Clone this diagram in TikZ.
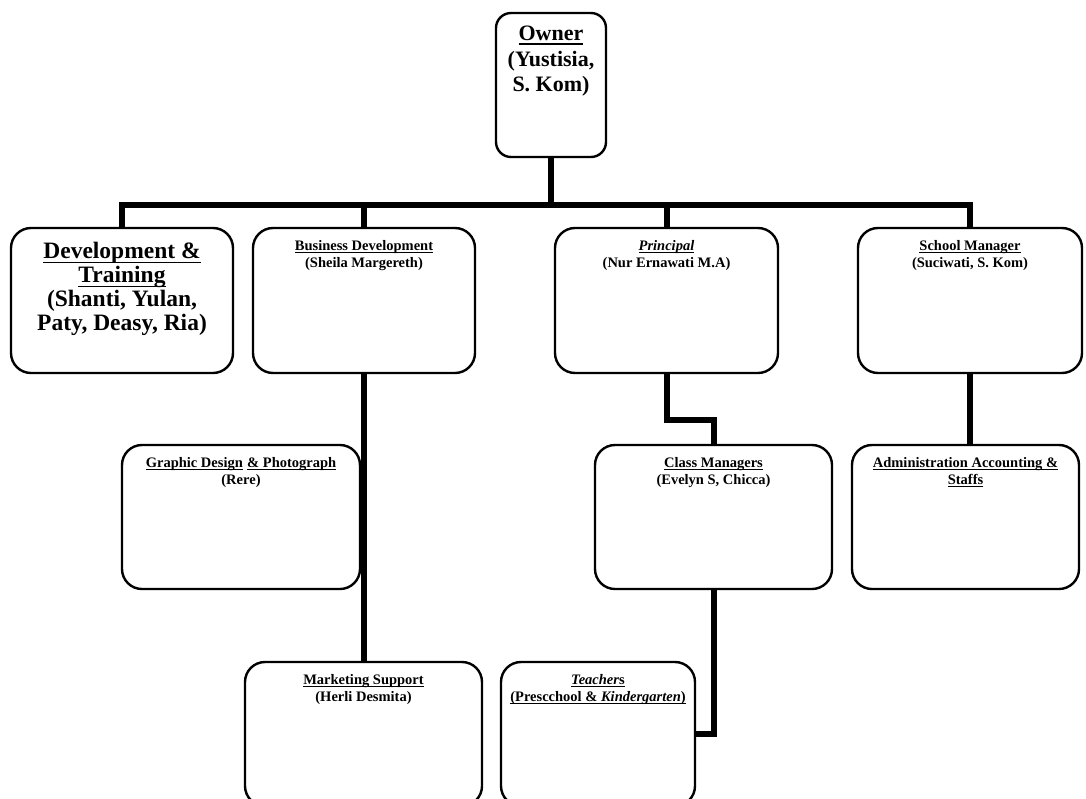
\documentclass[tikz,border=0pt]{standalone}
\usepackage{fontspec}
\setmainfont{Liberation Serif}
\newlength\myulth
\setlength\myulth{1pt}
\newcommand{\myul}[1]{\setbox0=\hbox{#1}\rlap{\rule[-0.2em]{\wd0}{\myulth}}\box0}
\begin{document}
\begin{tikzpicture}[x=1pt,y=-1pt,
  box/.style={draw, line width=2.4pt, rounded corners=20pt, inner sep=0pt},
  sm/.style={font=\fontsize{14.5}{17.5}\selectfont\bfseries, align=center, inner sep=0pt},
  lg/.style={font=\fontsize{23.5}{24}\selectfont\bfseries, align=center, inner sep=0pt},
  ow/.style={font=\fontsize{22}{25.5}\selectfont\bfseries, align=center, inner sep=0pt},
  conn/.style={line width=6pt, line join=miter}]
\clip (0,0) rectangle (1086,798);
\fill[white] (0,0) rectangle (1086,798);
% boxes
\node[box, rounded corners=15pt, minimum width=110pt, minimum height=144pt] (own) at (551,85) {};
\node[box, minimum width=222pt, minimum height=145pt] (dt) at (122,300.5) {};
\node[box, minimum width=222pt, minimum height=145pt] (bd) at (364,300.5) {};
\node[box, minimum width=223pt, minimum height=145pt] (pr) at (666.5,300.5) {};
\node[box, minimum width=224pt, minimum height=145pt] (sm) at (970,300.5) {};
\node[box, minimum width=238pt, minimum height=144pt] (gd) at (241,517) {};
\node[box, minimum width=237pt, minimum height=144pt] (cm) at (713.5,517) {};
\node[box, minimum width=227pt, minimum height=144pt] (ad) at (965.5,517) {};
\node[box, minimum width=237pt, minimum height=144pt] (ms) at (363.5,734) {};
\node[box, minimum width=194pt, minimum height=144pt] (te) at (598,734) {};
% texts
\setlength\myulth{1.5pt}
\node[ow, anchor=north] (own-t) at ([yshift=-14pt]own.north) {\myul{Owner}\\(Yustisia,\\S. Kom)};
\node[lg, anchor=north] (dt-t) at ([yshift=-15pt]dt.north) {\myul{Development \&}\\\myul{Training}\\ (Shanti, Yulan,\\Paty, Deasy, Ria)};
\setlength\myulth{1pt}
\node[sm, anchor=north] (bd-t) at ([yshift=-13pt]bd.north) {\myul{Business Development}\\(Sheila Margereth)};
\node[sm, anchor=north] (pr-t) at ([yshift=-13pt]pr.north) {\myul{\textit{Principal}}\\(Nur Ernawati M.A)};
\node[sm, anchor=north] (sm-t) at ([yshift=-13pt]sm.north) {\myul{School Manager}\\(Suciwati, S. Kom)};
\node[sm, anchor=north] (gd-t) at ([yshift=-13pt]gd.north) {\myul{Graphic Design}\hspace{0.3em}\myul{\& Photograph}\\(Rere)};
\node[sm, anchor=north] (cm-t) at ([yshift=-13pt]cm.north) {\myul{Class Managers}\\(Evelyn S, Chicca)};
\node[sm, anchor=north] (ad-t) at ([yshift=-13pt]ad.north) {\myul{Administration Accounting \&}\\\myul{Staffs}};
\node[sm, anchor=north] (ms-t) at ([yshift=-13pt]ms.north) {\myul{Marketing Support}\\(Herli Desmita)};
\node[sm, anchor=north] (te-t) at ([yshift=-13pt]te.north) {\myul{\textit{Teacher}s}\\\myul{(Prescchool \& \textit{Kindergarten})}};
% connectors
\coordinate (hub) at (551,205);
\coordinate (k1) at (666.5,420);
\draw[conn] (own.south) -- (hub);
\draw[conn] (hub) -| (dt.north);
\draw[conn] (hub) -| (bd.north);
\draw[conn] (hub) -| (pr.north);
\draw[conn] (hub) -| (sm.north);
\draw[conn] (bd.south) -- (bd.south |- ms.north);
\draw[conn] (pr.south) -- (k1) -| (cm.north);
\draw[conn] (cm.south) |- (te.east);
\draw[conn] (sm.south) -- (sm.south |- ad.north);
\end{tikzpicture}
\end{document}
